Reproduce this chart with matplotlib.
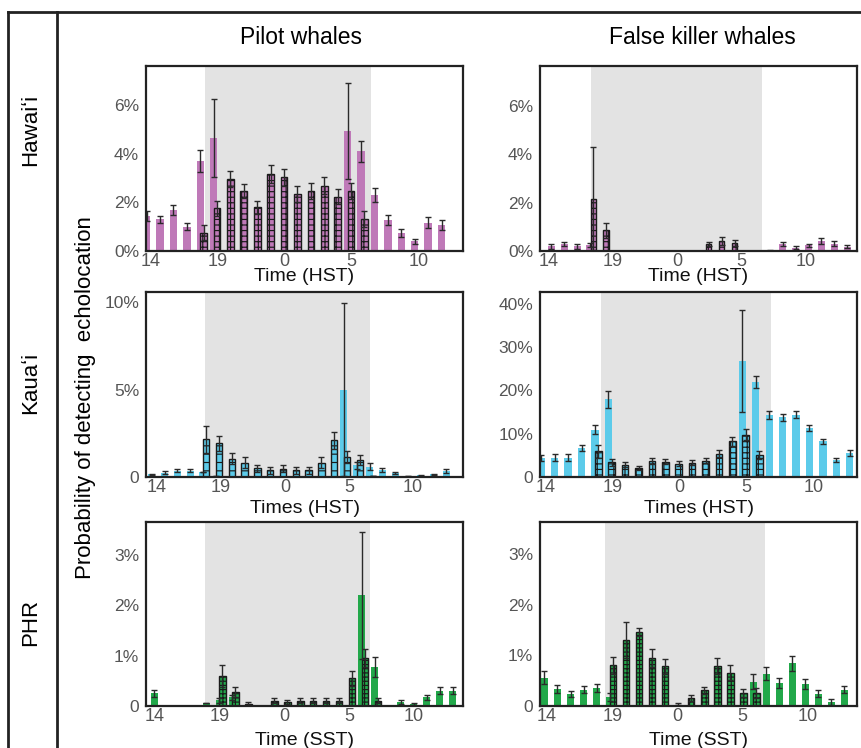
import numpy as np
import matplotlib
matplotlib.use("Agg")
import matplotlib.pyplot as plt
from matplotlib.lines import Line2D

N = np.nan

# ---------------- data ----------------
hours = [14, 15, 16, 17, 18, 19, 20, 21, 22, 23, 0, 1, 2, 3, 4, 5, 6, 7, 8, 9, 10, 11, 12, 13]
tick_hours = [14, 19, 0, 5, 10]

col_titles = ["Pilot whales", "False killer whales"]
row_titles = ["Hawaiʻi", "Kauaʻi", "PHR"]
x_labels = ["Time (HST)", "Times (HST)", "Time (SST)"]
y_label = "Probability of detecting  echolocation"

# Hawai'i - pilot whales (percent)
haw_pilot_day = [1.45, 1.3, 1.68, 1.0, 3.68, 4.63, N, N, N, N, N, N, N, N, N, 4.92, 4.1, 2.3, 1.27, 0.74, 0.4, 1.16, 1.08, N]
haw_pilot_day_err = [0.2, 0.15, 0.2, 0.15, 0.45, 1.6, N, N, N, N, N, N, N, N, N, 1.97, 0.43, 0.29, 0.2, 0.15, 0.1, 0.23, 0.2, N]
haw_pilot_night = [N, N, N, N, 0.76, 1.75, 2.97, 2.47, 1.79, 3.17, 3.02, 2.34, 2.47, 2.68, 2.23, 2.47, 1.31, N, N, N, N, N, N, N]
haw_pilot_night_err = [N, N, N, N, 0.3, 0.3, 0.33, 0.3, 0.28, 0.38, 0.35, 0.32, 0.32, 0.34, 0.31, 0.32, 0.33, N, N, N, N, N, N, N]

# Hawai'i - false killer whales
haw_fkw_day = [0.2, 0.29, 0.2, 0.26, N, N, N, N, N, N, N, N, N, N, N, N, N, 0.03, 0.29, 0.14, 0.23, 0.41, 0.3, 0.18]
haw_fkw_day_err = [0.1, 0.1, 0.1, 0.08, N, N, N, N, N, N, N, N, N, N, N, N, N, 0.02, 0.1, 0.07, 0.08, 0.12, 0.1, 0.07]
haw_fkw_night = [N, N, N, 2.17, 0.85, 0, 0, 0, 0, 0, 0, 0, 0.29, 0.41, 0.34, 0, 0, N, N, N, N, N, N, N]
haw_fkw_night_err = [N, N, N, 2.13, 0.3, 0, 0, 0, 0, 0, 0, 0, 0.1, 0.15, 0.12, 0, 0, N, N, N, N, N, N, N]

# Kaua'i - pilot whales
kau_pilot_day = [0.15, 0.25, 0.37, 0.37, 0.29, 0.05, N, N, N, N, N, N, N, N, N, 5.0, 0.67, 0.58, 0.38, 0.23, 0.05, 0.1, 0.15, 0.33]
kau_pilot_day_err = [0.05, 0.1, 0.1, 0.1, 0.0, 0.0, N, N, N, N, N, N, N, N, N, 4.96, 0.2, 0.2, 0.12, 0.08, 0.0, 0.03, 0.04, 0.1]
kau_pilot_night = [N, N, N, N, 2.15, 1.92, 1.06, 0.83, 0.5, 0.38, 0.48, 0.38, 0.38, 0.83, 2.1, 1.15, 0.96, 0.05, N, N, N, N, N, N]
kau_pilot_night_err = [N, N, N, N, 0.8, 0.45, 0.3, 0.3, 0.2, 0.2, 0.2, 0.2, 0.2, 0.3, 0.5, 0.35, 0.3, 0.0, N, N, N, N, N, N]

# Kaua'i - false killer whales
kau_fkw_day = [4.3, 4.5, 4.5, 6.7, 10.9, 17.9, N, N, N, N, N, N, N, N, N, 26.7, 21.9, 14.4, 13.8, 14.4, 11.4, 8.2, 4.0, 5.5]
kau_fkw_day_err = [0.7, 0.7, 0.7, 0.8, 1.0, 2.0, N, N, N, N, N, N, N, N, N, 11.8, 1.3, 0.9, 0.8, 0.8, 0.7, 0.6, 0.5, 0.7]
kau_fkw_night = [N, N, N, N, 6.0, 3.4, 2.85, 2.1, 3.6, 3.5, 3.1, 3.3, 3.8, 5.4, 8.2, 9.8, 5.15, N, N, N, N, N, N, N]
kau_fkw_night_err = [N, N, N, N, 1.5, 0.8, 0.6, 0.5, 0.7, 0.6, 0.6, 0.6, 0.6, 0.8, 1.0, 1.2, 0.9, N, N, N, N, N, N, N]

# PHR - pilot whales
phr_pilot_day = [0.25, 0, 0, 0, 0.06, 0.11, 0.17, N, N, N, N, N, N, N, N, N, 2.2, 0.77, 0, 0.08, 0.03, 0.17, 0.3, 0.3]
phr_pilot_day_err = [0.07, 0, 0, 0, 0.0, 0.05, 0.05, N, N, N, N, N, N, N, N, N, 1.27, 0.2, 0, 0.04, 0.02, 0.05, 0.07, 0.07]
phr_pilot_night = [N, N, N, N, N, 0.59, 0.28, 0.04, 0, 0.1, 0.08, 0.1, 0.1, 0.1, 0.1, 0.55, 0.95, 0.1, N, N, N, N, N, N]
phr_pilot_night_err = [N, N, N, N, N, 0.22, 0.1, 0.03, 0, 0.05, 0.04, 0.05, 0.05, 0.05, 0.05, 0.15, 0.18, 0.05, N, N, N, N, N, N]

# PHR - false killer whales
phr_fkw_day = [0.56, 0.34, 0.24, 0.32, 0.36, 0.17, N, N, N, N, N, N, N, N, N, N, 0.48, 0.64, 0.46, 0.84, 0.44, 0.24, 0.07, 0.32]
phr_fkw_day_err = [0.13, 0.08, 0.06, 0.07, 0.08, 0.08, N, N, N, N, N, N, N, N, N, N, 0.15, 0.13, 0.1, 0.15, 0.1, 0.07, 0.06, 0.07]
phr_fkw_night = [N, N, N, N, N, 0.8, 1.3, 1.46, 0.94, 0.78, 0.02, 0.16, 0.31, 0.79, 0.66, 0.25, 0.26, N, N, N, N, N, N, N]
phr_fkw_night_err = [N, N, N, N, N, 0.17, 0.35, 0.08, 0.18, 0.15, 0.04, 0.06, 0.07, 0.15, 0.15, 0.08, 0.1, N, N, N, N, N, N, N]

# night shading (in hour-slot units from 14:00)
night_start = [[4.25, 3.0], [4.06, 4.35], [3.8, 4.58]]
night_end = [[16.6, 16.3], [16.95, 17.0], [16.5, 16.83]]

y_ticks = [[[0, 2, 4, 6], [0, 2, 4, 6]],
           [[0, 5, 10], [0, 10, 20, 30, 40]],
           [[0, 1, 2, 3], [0, 1, 2, 3]]]
y_tick_labels = [[["0%", "2%", "4%", "6%"], ["0%", "2%", "4%", "6%"]],
                 [["0", "5%", "10%"], ["0", "10%", "20%", "30%", "40%"]],
                 [["0", "1%", "2%", "3%"], ["0", "1%", "2%", "3%"]]]

# ---------------- style / layout ----------------
row_colors = ["#bf79b8", "#5ccbea", "#22a84a"]
hatches = [["+++", "+++"], ["--", "+++"], ["++++", "++++"]]
ylims = [[7.6, 7.65], [10.6, 42.7], [3.66, 3.63]]
xlims = [[(-0.15, 23.5), (-0.98, 23.67)],
         [(-0.55, 24.2), (-0.2, 23.45)],
         [(-0.75, 23.7), (-0.44, 23.86)]]
tick_shift = [[0.2, -0.3], [0.3, 0.2], [-0.1, 0.1]]
xlabel_y = [-0.14, -0.168, -0.185]

W, H = 861, 748
col_x = [146, 540]
col_w = 317
row_y = [(66, 251), (292, 477), (522, 706)]

panel_data = [
    [(haw_pilot_day, haw_pilot_day_err, haw_pilot_night, haw_pilot_night_err),
     (haw_fkw_day, haw_fkw_day_err, haw_fkw_night, haw_fkw_night_err)],
    [(kau_pilot_day, kau_pilot_day_err, kau_pilot_night, kau_pilot_night_err),
     (kau_fkw_day, kau_fkw_day_err, kau_fkw_night, kau_fkw_night_err)],
    [(phr_pilot_day, phr_pilot_day_err, phr_pilot_night, phr_pilot_night_err),
     (phr_fkw_day, phr_fkw_day_err, phr_fkw_night, phr_fkw_night_err)],
]

plt.rcParams["font.family"] = ["Liberation Sans", "DejaVu Sans"]
plt.rcParams["hatch.linewidth"] = 0.85

fig = plt.figure(figsize=(W / 100, H / 100), dpi=100)

idx = np.arange(len(hours))
tick_idx = np.array([hours.index(h) for h in tick_hours], dtype=float)

for r in range(3):
    for c in range(2):
        y0, y1 = row_y[r]
        ax = fig.add_axes([col_x[c] / W, 1 - y1 / H, col_w / W, (y1 - y0) / H])
        day, day_err, night, night_err = [np.array(a, dtype=float) for a in panel_data[r][c]]
        color = row_colors[r]

        ax.axvspan(night_start[r][c], night_end[r][c], color="#e3e3e3", lw=0, zorder=0)

        xd = idx - 0.1
        xn = idx + 0.15
        md = ~np.isnan(day)
        mn = ~np.isnan(night)
        hw = 0.4 if (r == 0 and c == 1) else 0.5
        ax.bar(xd[md], day[md], width=0.55, color=color, lw=0, zorder=2)
        ax.bar(xn[mn], night[mn], width=hw, color=color, edgecolor="#1a1a1a",
               lw=1.0, hatch=hatches[r][c], zorder=3)
        ax.errorbar(xd[md], day[md], yerr=day_err[md], fmt="none", ecolor="#2a2a2a",
                    elinewidth=1.0, capsize=2.3, capthick=1.0, zorder=4)
        ax.errorbar(xn[mn], night[mn], yerr=night_err[mn], fmt="none", ecolor="#2a2a2a",
                    elinewidth=1.0, capsize=2.3, capthick=1.0, zorder=4)

        ax.set_xlim(*xlims[r][c])
        ax.set_ylim(0, ylims[r][c])
        ax.set_xticks(tick_idx + tick_shift[r][c])
        ax.set_xticklabels([str(h) for h in tick_hours])
        ax.set_yticks(y_ticks[r][c])
        ax.set_yticklabels(y_tick_labels[r][c])
        ax.tick_params(axis="x", length=0, pad=1.5, labelsize=13, labelcolor="#555555")
        ax.tick_params(axis="y", length=0, pad=5, labelsize=12.5, labelcolor="#555555")
        for s in ax.spines.values():
            s.set_color("#222222")
            s.set_linewidth(1.6)
            s.set_zorder(5)
        ax.set_xlabel(x_labels[r], fontsize=14, color="#111111")
        ax.xaxis.set_label_coords(0.5, xlabel_y[r])
        ax.xaxis.label.set_va("center")

# column titles
fig.text(301 / W, 1 - 38 / H, col_titles[0], ha="center", va="center", fontsize=16.5)
fig.text(702 / W, 1 - 38 / H, col_titles[1], ha="center", va="center", fontsize=16.5)

# row titles
for t, yc in zip(row_titles, [130, 383, 622]):
    fig.text(31 / W, 1 - yc / H, t, ha="center", va="center", rotation=90, fontsize=16)

# shared y label
fig.text(86 / W, 1 - 398 / H, y_label, ha="center", va="center", rotation=90, fontsize=16)

# frame lines
lc = "#222222"
fig.add_artist(Line2D([8 / W, 1.0], [1 - 12 / H, 1 - 12 / H], color=lc, lw=2, transform=fig.transFigure))
fig.add_artist(Line2D([8 / W, 8 / W], [0, 1 - 12 / H], color=lc, lw=2, transform=fig.transFigure))
fig.add_artist(Line2D([57 / W, 57 / W], [0, 1 - 12 / H], color=lc, lw=2, transform=fig.transFigure))

fig.savefig("out.png", dpi=100)
